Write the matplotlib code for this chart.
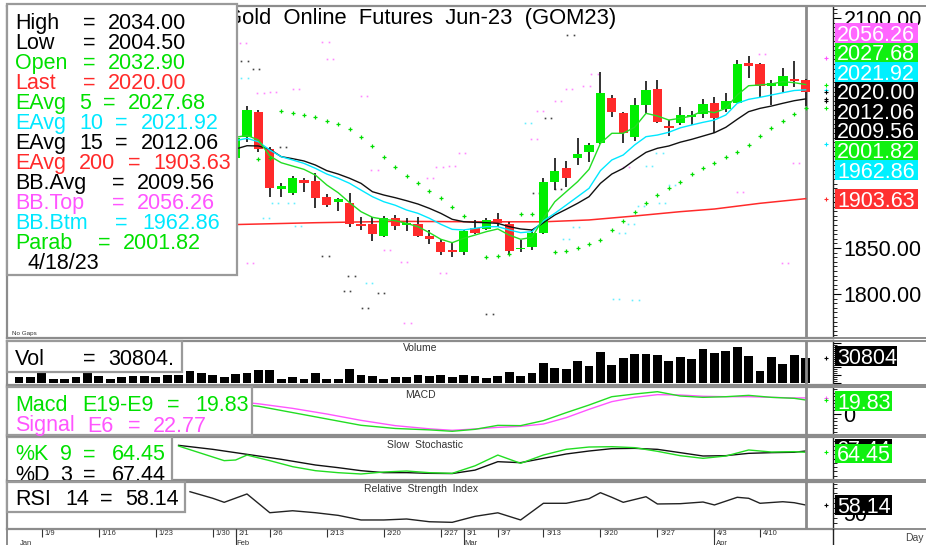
import matplotlib
matplotlib.use("Agg")
import matplotlib.pyplot as plt
from matplotlib.patches import Rectangle
from matplotlib.lines import Line2D
from matplotlib.ticker import MultipleLocator, FixedLocator, NullFormatter, FormatStrFormatter, FuncFormatter
import matplotlib.transforms as mtrans

plt.rcParams['font.family'] = ['Liberation Sans', 'DejaVu Sans']

# ---------------- data ----------------
TITLE = "Gold  Online  Futures  Jun-23  (GOM23)"
DATE_STR = "4/18/23"

candle_idx = list(range(19, 70))
opens = [1947.5, 1970.3, 1998.2, 1957.3, 1914.5, 1910.2, 1923.9, 1922.8, 1905.8, 1900.5,
         1898.6, 1875.8, 1876.1, 1863.0, 1882.3, 1875.0, 1876.1, 1863.4, 1856.8, 1847.8,
         1845.3, 1872.1, 1870.7, 1881.5, 1876.1, 1848.6, 1851.4, 1866.6, 1922.1, 1936.6,
         1948.2, 1954.7, 1964.0, 2013.4, 1996.4, 1971.0, 2005.4, 2022.5, 1982.6, 1985.5,
         1992.1, 1995.7, 2007.3, 2000.8, 2007.9, 2051.4, 2050.0, 2026.6, 2026.1, 2033.7,
         2032.9]
highs = [1971.0, 2004.3, 1999.5, 1960.1, 1920.3, 1928.3, 1926.4, 1931.2, 1908.7, 1904.0,
         1910.1, 1884.0, 1884.0, 1884.8, 1885.5, 1883.0, 1884.0, 1869.6, 1859.5, 1855.8,
         1869.6, 1880.4, 1882.3, 1887.7, 1878.6, 1858.7, 1869.6, 1925.8, 1947.5, 1944.9,
         1969.2, 1963.8, 2041.0, 2016.3, 1998.2, 2012.7, 2031.8, 2032.6, 1989.1, 2003.6,
         1999.2, 2011.6, 2014.5, 2018.2, 2054.3, 2058.7, 2050.7, 2032.6, 2046.0, 2053.6,
         2034.0]
lows = [1945.0, 1965.5, 1954.7, 1905.1, 1905.8, 1907.3, 1911.2, 1893.2, 1894.9, 1890.5,
        1872.5, 1869.6, 1857.9, 1862.3, 1869.6, 1868.0, 1862.3, 1854.3, 1842.4, 1839.9,
        1842.4, 1865.2, 1869.6, 1873.2, 1843.5, 1846.0, 1847.8, 1865.2, 1913.0, 1916.6,
        1940.2, 1943.8, 1962.7, 1992.1, 1963.8, 1966.6, 1996.4, 1985.5, 1972.1, 1983.7,
        1983.7, 1991.0, 1975.3, 1998.2, 2007.3, 2034.4, 2014.5, 2005.4, 2020.0, 2025.3,
        2004.5]
closes = [1969.2, 2000.0, 1957.6, 1915.5, 1917.7, 1926.4, 1921.0, 1904.0, 1897.1, 1903.1,
          1875.8, 1873.9, 1864.9, 1882.3, 1873.9, 1877.0, 1863.0, 1859.5, 1845.3, 1845.7,
          1868.5, 1866.6, 1880.4, 1876.8, 1847.1, 1850.3, 1866.0, 1922.1, 1933.7, 1926.4,
          1952.2, 1962.0, 2018.2, 1997.5, 1974.7, 2005.4, 2021.7, 1987.5, 1980.1, 1994.6,
          1994.6, 2006.5, 1991.0, 2009.8, 2050.0, 2047.3, 2026.1, 2029.1, 2037.0, 2031.8,
          2020.0]

vol_idx = list(range(0, 70))
volumes = [6660, 6660, 12900, 4160, 4160, 6660, 12900, 8320, 4160, 6660,
           8320, 8320, 6660, 9570, 9570, 14560, 11650, 9980, 7490, 10400,
           11650, 15800, 15800, 4160, 7490, 4160, 11650, 4160, 4160, 16640,
           9570, 8320, 5000, 6660, 6660, 9150, 7900, 9150, 6660, 9980,
           8320, 5820, 8320, 13300, 7900, 11650, 24960, 18300, 17060, 27040,
           20400, 38270, 21630, 30780, 35360, 35360, 34530, 27040, 32030, 29120,
           41600, 37440, 39100, 44100, 33280, 14560, 32030, 23300, 34530, 30804]

ema5 = [1970.3, 1972.5, 1967.4, 1950.0, 1942.7, 1939.1, 1935.5, 1929.3, 1918.5, 1910.1,
        1899.3, 1889.5, 1883.4, 1881.2, 1879.7, 1876.8, 1873.2, 1866.7, 1859.5, 1855.8,
        1860.5, 1864.1, 1867.8, 1870.7, 1864.1, 1859.5, 1861.6, 1882.3, 1900.3, 1911.2,
        1922.1, 1935.5, 1963.8, 1974.7, 1974.7, 1981.2, 1996.4, 1993.5, 1989.1, 1991.0,
        1993.5, 1999.2, 1997.1, 2001.8, 2016.3, 2026.4, 2027.2, 2028.3, 2030.8, 2029.7,
        2027.68]
ema10 = [1966.7, 1969.2, 1965.5, 1956.5, 1949.3, 1945.7, 1942.0, 1936.6, 1930.4, 1925.8,
         1920.3, 1913.0, 1905.8, 1900.3, 1896.5, 1891.3, 1887.7, 1882.3, 1875.8, 1870.3,
         1869.6, 1871.4, 1873.2, 1873.2, 1869.6, 1866.7, 1867.8, 1879.5, 1887.7, 1896.7,
         1905.8, 1914.9, 1934.1, 1945.7, 1951.1, 1962.0, 1971.0, 1972.8, 1975.8, 1980.6,
         1983.7, 1986.6, 1989.1, 1994.6, 2007.3, 2011.6, 2013.8, 2016.3, 2018.8, 2021.2,
         2021.92]
ema15 = [1957.6, 1961.2, 1960.9, 1957.3, 1949.3, 1947.1, 1944.6, 1940.2, 1934.1, 1930.4,
         1925.8, 1920.3, 1911.2, 1907.6, 1904.7, 1901.4, 1897.8, 1893.1, 1887.7, 1881.2,
         1878.6, 1877.9, 1877.5, 1876.8, 1873.2, 1870.7, 1869.6, 1877.5, 1885.9, 1892.1,
         1898.6, 1905.8, 1920.3, 1930.4, 1936.6, 1945.7, 1954.0, 1958.4, 1960.9, 1965.0,
         1968.1, 1971.7, 1975.3, 1981.2, 1989.9, 1998.2, 2001.8, 2004.3, 2007.3, 2010.1,
         2012.06]
ema200_idx = [19, 26, 33, 40, 46, 50, 54, 58, 61, 65, 69]
ema200 = [1875.5, 1877.5, 1879.0, 1878.5, 1878.5, 1880.5, 1884.8, 1889.5, 1892.4, 1898.6, 1903.63]

bb_avg_last = 2009.56
bb_top_last = 2056.26
bb_btm_last = 1962.86

parab_idx = [21, 22, 23, 24, 25, 26, 27, 28, 29, 30, 31, 32, 33, 34, 35, 36, 37, 38, 39,
             41, 42, 43, 44, 45,
             47, 48, 49, 50, 51, 52, 53, 54, 55, 56, 57, 58, 59, 60, 61, 62, 63, 64, 65,
             66, 67, 68, 69]
parab = [1947.1, 1947.5, 1998.9, 1996.4, 1994.2, 1992.7, 1988.4, 1985.1, 1979.3, 1971.0,
         1960.9, 1948.6, 1937.7, 1928.3, 1920.3, 1912.3, 1904.0, 1894.2, 1885.1,
         1840.6, 1841.7, 1843.5, 1887.0, 1886.6,
         1846.0, 1847.1, 1849.6, 1854.3, 1858.7, 1869.6, 1879.7, 1889.5, 1898.6, 1907.6,
         1914.9, 1922.1, 1930.1, 1936.6, 1942.7, 1948.6, 1954.3, 1962.0, 1971.7, 1980.1,
         1987.7, 1995.3, 2001.82]

# sparse band dots (pink = BB top, cyan = BB bottom, black = BB avg)
pink_dot_idx = [19.4, 20.0, 20.9, 22.0, 24.0, 26.6, 27.0, 30.0, 30.9, 32.0, 33.5, 33.8, 35.8,
                36.6, 36.9, 37.7, 38.6, 44.9, 45.4, 47.0, 47.96, 49.5, 50.2, 52.96, 62.96,
                64.9, 66.9, 67.9]
pink_dot_val = [2073.0, 1833.3, 2018.1, 2019.6, 2022.5, 2074.0, 2055.1, 2015.5, 1934.8, 1847.8,
                1834.5, 1768.8, 1925.8, 1938.4, 1823.2, 1939.5, 1952.9, 1968.1, 1999.0, 2009.8,
                2022.8, 2026.1, 2038.8, 1938.4, 1911.2, 2060.5, 1834.0, 1942.0]
cyan_dot_idx = [19.5, 21.4, 22.2, 23.6, 24.2, 30.4, 44.4, 47.7, 48.6, 52.1, 52.6, 53.4, 53.8,
                54.3, 55.0, 55.9, 56.1, 57.0]
cyan_dot_val = [2034.4, 1882.3, 1898.6, 1898.6, 1874.0, 1812.3, 1985.9, 1859.4, 1872.5, 1794.2,
                1866.7, 1875.8, 1793.5, 1896.0, 1939.1, 1952.9, 1899.3, 1918.5]
black_dot_idx = [19.5, 20.5, 22.9, 26.6, 28.5, 28.9, 30.1, 31.5, 41.0, 45.1, 46.1, 47.0, 48.1]
black_dot_val = [2053.0, 2045.0, 1960.0, 1841.3, 1803.3, 1819.6, 1784.4, 1800.7, 1778.0, 1909.8,
                 1991.3, 1914.1, 2081.5]

macd_idx = [20, 21, 24, 27, 30, 33, 36, 38, 40, 42, 44, 46, 48, 50, 52, 54, 56, 58, 60, 62, 64, 66, 68, 69]
macd = [12.5, 11.0, 2.0, -7.0, -16.0, -20.5, -22.5, -24.5, -21.7, -16.1, -16.5, -9.4, 1.9, 12.7,
        24.5, 28.3, 31.6, 25.5, 23.6, 24.5, 26.4, 23.6, 22.2, 19.83]
signal = [16.0, 14.5, 8.0, 0.0, -9.0, -16.5, -21.0, -23.1, -21.2, -18.9, -17.5, -14.2, -5.2, 6.6,
          17.5, 23.6, 27.4, 26.9, 25.1, 24.5, 24.5, 23.6, 22.7, 22.77]

stoch_k_idx = [14, 16, 18, 19, 20, 22, 24, 26, 28, 30, 32, 34, 36, 38, 40, 42, 44, 46, 48, 50,
               52, 54, 56, 58, 60, 62, 64, 66, 68, 69]
stoch_k = [79, 62, 45, 46.5, 58, 45, 31, 21.7, 17, 14, 18.6, 20.9, 17, 15.5, 33, 58, 38.8, 58.1,
           71.3, 76.7, 77.5, 75.2, 66.7, 56.6, 50.4, 55.8, 69.8, 65.1, 65.9, 64.45]
stoch_d_idx = [14, 17, 20, 23, 26, 28, 30, 32, 34, 36, 38, 40, 42, 44, 46, 48, 50, 52, 54, 56,
               58, 60, 62, 64, 66, 68, 69]
stoch_d = [80.6, 71.3, 59.7, 48.1, 34.9, 28.7, 21.7, 17.1, 17.1, 15.5, 15.0, 23.0, 42.6, 40.3,
           50.4, 60.5, 67.4, 72.9, 73.6, 71.3, 63.6, 55.8, 56.6, 62.0, 63.6, 64.5, 67.44]

rsi_idx = [15, 17, 18, 20, 22, 24, 26, 28, 30, 32, 34, 36, 38, 40, 42, 44, 46, 48, 50, 51, 52,
           53, 55, 56, 58, 60, 61, 63, 64, 65, 67, 68, 69]
rsi = [71.7, 65.0, 60.9, 69.4, 50.3, 52.3, 50.3, 47.6, 42.9, 42.9, 43.9, 41.1, 40.5, 46.6, 50.2,
       42.9, 59.9, 59.9, 64.6, 70.7, 66.0, 60.9, 66.6, 59.2, 59.5, 61.2, 58.2, 66.0, 65.0, 59.9,
       61.5, 60.5, 58.14]

day_tick_labels = ["1/9", "1/16", "1/23", "1/30", "2/1", "2/6", "2/13", "2/20", "2/27", "3/1",
                   "3/7", "3/13", "3/20", "3/27", "4/3", "4/10"]
day_tick_idx = [2, 7, 12, 17, 19, 22, 27, 32, 37, 39, 42, 46, 51, 56, 61, 65]
month_labels = ["Jan", "Feb", "Mar", "Apr"]
month_idx = [0, 19, 39, 61]

price_tick_labels_shown = [1800, 1850, 2100]

# ---------------- style ----------------
W, H = 926, 545
GREEN = '#00ee00'
GREEN_T = '#00e000'
RED = '#ff2a2a'
CYAN = '#00e8ff'
PINK = '#ff55ff'
GRAY = '#8c8c8c'
FS = 15.5
CAPH = 7.7  # half cap height in px for FS

fig = plt.figure(figsize=(W / 100, H / 100), dpi=100)
fig.patch.set_facecolor('white')

XL = (-1.05, 71.4)


def add_ax(y0, y1, x0=7, x1=833, sharex=None):
    return fig.add_axes([x0 / W, 1 - y1 / H, (x1 - x0) / W, (y1 - y0) / H], sharex=sharex)


def style(ax, ylim):
    ax.set_xlim(*XL)
    ax.set_ylim(*ylim)
    for s in ['top', 'bottom', 'left']:
        ax.spines[s].set_color(GRAY)
        ax.spines[s].set_linewidth(1.6)
    ax.spines['right'].set_color('#222222')
    ax.spines['right'].set_linewidth(1.0)
    ax.yaxis.tick_right()
    ax.tick_params(axis='y', which='major', length=6, width=0.8, direction='out',
                   labelsize=FS, pad=1.5)
    ax.tick_params(axis='y', which='minor', length=3, width=0.6, direction='out')
    ax.tick_params(axis='x', which='both', bottom=False, top=False, labelbottom=False)
    ax.set_facecolor('white')


def ptext(x, y, s, color='black', size=FS, clip_ax=None, zorder=8, **kw):
    t = fig.text(x / W, 1 - y / H, s, color=color, fontsize=size, ha='left',
                 va='baseline', zorder=zorder, **kw)
    if clip_ax is not None:
        t.set_clip_box(clip_ax.bbox)
        t.set_clip_on(True)
    return t


def frame_box(x0, y0, x1, y1, clip_ax=None):
    r = Rectangle((x0 / W, 1 - y1 / H), (x1 - x0) / W, (y1 - y0) / H,
                  transform=fig.transFigure, facecolor='white', edgecolor='#9a9a9a',
                  linewidth=1.6, zorder=7)
    fig.add_artist(r)
    if clip_ax is not None:
        r.set_clip_box(clip_ax.bbox)
        r.set_clip_on(True)


def value_label(text, yc, bg, x0=835, x1=918, fc='white', h=19.5, z=9):
    fig.add_artist(Rectangle((x0 / W, 1 - (yc + h / 2) / H), (x1 - x0) / W, h / H,
                             transform=fig.transFigure, facecolor=bg, edgecolor='none',
                             zorder=z))
    ptext(x0 + 2, yc + CAPH, text, color=fc, zorder=z + 0.5)


# ---------------- main panel ----------------
axm = add_ax(6, 338)
style(axm, (1752.2, 2113.04))
axm.yaxis.set_major_locator(MultipleLocator(50))
axm.yaxis.set_minor_locator(MultipleLocator(5))
axm.yaxis.set_major_formatter(FuncFormatter(
    lambda v, p: f"{v:.2f}" if round(v) in price_tick_labels_shown else ""))

axm.axvline(candle_idx[-1], color='#8a8a8a', lw=2, zorder=1)
axm.plot(ema200_idx, ema200, color=RED, lw=1.1, zorder=2)

bodies = [c - o for o, c in zip(opens, closes)]
ccol = [GREEN if c >= o else RED for o, c in zip(opens, closes)]
axm.vlines(candle_idx, lows, highs, color='#222222', lw=1.3, zorder=3)
axm.bar(candle_idx, bodies, bottom=opens, width=0.82, color=ccol, zorder=4)

axm.plot(candle_idx, ema15, color='#111111', lw=1.0, zorder=5)
axm.plot(candle_idx, ema10, color=CYAN, lw=1.0, zorder=5)
axm.plot(candle_idx, ema5, color='#22dd22', lw=1.0, zorder=5)
axm.plot(parab_idx, parab, ls='none', marker='+', ms=2.8, mew=0.9, color='#00dd00', zorder=5)

for ix, vals, col in [(pink_dot_idx, pink_dot_val, '#ff88ff'),
                      (cyan_dot_idx, cyan_dot_val, '#66eeff'),
                      (black_dot_idx, black_dot_val, '#444444')]:
    axm.plot(ix, vals, ls='none', marker='s', ms=1.2, mew=0, color=col, zorder=2)
    axm.plot([i + 0.55 for i in ix], vals, ls='none', marker='s', ms=1.2, mew=0,
             color=col, zorder=2)

# right-edge value markers
for v, col in [(bb_top_last, PINK), (ema5[-1], GREEN), (ema10[-1], CYAN), (closes[-1], 'black'),
               (ema15[-1], 'black'), (bb_avg_last, 'black'), (parab[-1], GREEN),
               (bb_btm_last, CYAN), (ema200[-1], RED)]:
    axm.plot([70.8], [v], marker='+', ms=3.5, mew=0.8, color=col, clip_on=False, zorder=6)

fig.text(225 / W, 1 - 24 / H, TITLE, fontsize=15.8, color='black', ha='left',
         va='baseline', zorder=4)
fig.text(12 / W, 1 - 335 / H, "No Gaps", fontsize=4.5, color='#333333', zorder=4)

# info box
frame_box(7, 4, 237, 275)
lines = [
    [("High", 15), ("=", 83), (f"{highs[-1]:.2f}", 108)],
    [("Low", 15), ("=", 83), (f"{lows[-1]:.2f}", 108)],
    [("Open", 15), ("=", 83), (f"{opens[-1]:.2f}", 108)],
    [("Last", 15), ("=", 83), (f"{closes[-1]:.2f}", 108)],
    [("EAvg", 15), ("5", 79), ("=", 103), (f"{ema5[-1]:.2f}", 128)],
    [("EAvg", 15), ("10", 79), ("=", 115), (f"{ema10[-1]:.2f}", 141)],
    [("EAvg", 15), ("15", 79), ("=", 115), (f"{ema15[-1]:.2f}", 141)],
    [("EAvg", 15), ("200", 79), ("=", 128), (f"{ema200[-1]:.2f}", 153)],
    [("BB.Avg", 15), ("=", 112), (f"{bb_avg_last:.2f}", 137)],
    [("BB.Top", 15), ("=", 112), (f"{bb_top_last:.2f}", 137)],
    [("BB.Btm", 15), ("=", 115), (f"{bb_btm_last:.2f}", 142)],
    [("Parab", 15), ("=", 98), (f"{parab[-1]:.2f}", 123)],
    [(DATE_STR, 27)],
]
line_cols = ['black', 'black', GREEN_T, RED, GREEN_T, CYAN, 'black', RED, 'black', PINK,
             CYAN, GREEN_T, 'black']
for i, (toks, col) in enumerate(zip(lines, line_cols)):
    for s, x in toks:
        ptext(x, 28.7 + 20.0 * i, s, color=col)

# right labels (main)
main_labels = [(bb_top_last, '#ff66ff', 33.0), (ema5[-1], '#10f010', 52.5),
               (ema10[-1], '#00f0ff', 72.0), (closes[-1], 'black', 91.5),
               (ema15[-1], 'black', 111.0), (bb_avg_last, 'black', 130.5),
               (parab[-1], '#10f010', 150.5), (bb_btm_last, '#00f0ff', 170.0),
               (ema200[-1], '#ff3030', 199.2)]
for v, bg, yc in main_labels:
    value_label(f"{v:.2f}", yc, bg)

# ---------------- volume ----------------
axv = add_ax(341, 385, sharex=axm)
style(axv, (-2864, 51917))
axv.yaxis.set_major_locator(MultipleLocator(10000))
axv.yaxis.set_minor_locator(MultipleLocator(2500))
axv.yaxis.set_major_formatter(NullFormatter())
axv.bar(vol_idx, volumes, width=0.78, color='black', zorder=3)
axv.axvline(vol_idx[-1], color='#8a8a8a', lw=2, zorder=4)
axv.plot([70.8], [volumes[-1]], marker='+', ms=3.5, mew=0.8, color='black', clip_on=False)
frame_box(7, 341, 182, 372)
for s, x in [("Vol", 15), ("=", 83), (f"{volumes[-1]}.", 108)]:
    ptext(x, 365, s)
value_label(f"{volumes[-1]}", 356, 'black', x1=897)
fig.text(420 / W, 1 - 351 / H, "Volume", fontsize=7.5, color='#333333', ha='center', va='baseline')

# ---------------- MACD ----------------
axc = add_ax(387, 435, sharex=axm)
style(axc, (-29.75, 38.24))
axc.yaxis.set_major_locator(FixedLocator([0]))
axc.yaxis.set_minor_locator(MultipleLocator(5))
axc.yaxis.set_major_formatter(FormatStrFormatter('%d'))
axc.plot(macd_idx, signal, color='#ff55ff', lw=1.0, zorder=3)
axc.plot(macd_idx, macd, color='#22dd22', lw=1.0, zorder=4)
axc.axvline(vol_idx[-1], color='#8a8a8a', lw=2, zorder=5)
axc.plot([70.8], [signal[-1]], marker='+', ms=3.5, mew=0.8, color=PINK, clip_on=False)
axc.plot([70.8], [macd[-1]], marker='+', ms=3.5, mew=0.8, color=GREEN, clip_on=False)
frame_box(7, 387, 252, 435)
for s, x in [("Macd", 15), ("E19-E9", 82), ("=", 167), (f"{macd[-1]:.2f}", 195)]:
    ptext(x, 411, s, color=GREEN_T)
for s, x in [("Signal", 15), ("E6", 87), ("=", 128), (f"{signal[-1]:.2f}", 153)]:
    ptext(x, 431.5, s, color=PINK)
value_label(f"{macd[-1]:.2f}", 401, '#10f010', x1=892)
fig.text(420 / W, 1 - 398 / H, "MACD", fontsize=7.5, color='#333333', ha='center', va='baseline')

# ---------------- Slow stochastic ----------------
axs = add_ax(437, 480, sharex=axm)
style(axs, (0, 100))
axs.yaxis.set_major_locator(FixedLocator([50]))
axs.yaxis.set_minor_locator(MultipleLocator(10))
axs.yaxis.set_major_formatter(NullFormatter())
axs.plot(stoch_d_idx, stoch_d, color='#111111', lw=1.0, zorder=3)
axs.plot(stoch_k_idx, stoch_k, color='#22dd22', lw=1.0, zorder=4)
axs.axvline(vol_idx[-1], color='#8a8a8a', lw=2, zorder=5)
axs.plot([70.8], [stoch_k[-1]], marker='+', ms=3.5, mew=0.8, color=GREEN, clip_on=False)
frame_box(7, 437, 172, 484, clip_ax=axs)
for s, x in [("%K", 15), ("9", 60), ("=", 83), (f"{stoch_k[-1]:.2f}", 112)]:
    ptext(x, 460.5, s, color=GREEN_T)
for s, x in [("%D", 15), ("3", 60), ("=", 83), (f"{stoch_d[-1]:.2f}", 112)]:
    ptext(x, 481, s, color='black', clip_ax=axs)
value_label(f"{stoch_d[-1]:.2f}", 448.5, 'black', x1=892, z=9)
value_label(f"{stoch_k[-1]:.2f}", 453.5, '#10f010', x1=892, z=10)
fig.text(425 / W, 1 - 448 / H, "Slow  Stochastic", fontsize=7.5, color='#333333', ha='center',
         va='baseline')

# ---------------- RSI ----------------
axr = add_ax(482, 529, sharex=axm)
style(axr, (33.7, 81.6))
axr.yaxis.set_major_locator(FixedLocator([50]))
axr.yaxis.set_minor_locator(MultipleLocator(5))
axr.yaxis.set_major_formatter(FormatStrFormatter('%d'))
axr.plot(rsi_idx, rsi, color='#222222', lw=1.0, zorder=3)
axr.axvline(vol_idx[-1], color='#8a8a8a', lw=2, zorder=5)
axr.plot([70.8], [rsi[-1]], marker='+', ms=3.5, mew=0.8, color='black', clip_on=False)
frame_box(7, 482, 185, 512)
for s, x in [("RSI", 15), ("14", 65), ("=", 100), (f"{rsi[-1]:.2f}", 125)]:
    ptext(x, 505, s)
value_label(f"{rsi[-1]:.2f}", 505, 'black', x1=892)
fig.text(421 / W, 1 - 492 / H, "Relative  Strength  Index", fontsize=7.5, color='#333333',
         ha='center', va='baseline')

# ---------------- date axis ----------------
axd = add_ax(529, 545, sharex=axm)
axd.set_xlim(*XL)
axd.set_ylim(0, 1)
axd.axis('off')
tr = mtrans.blended_transform_factory(axd.transData, axd.transAxes)
axd.vlines(day_tick_idx, 0.5, 1.0, color='#333333', lw=0.8, transform=tr)
axd.vlines(month_idx[1:], 0.0, 1.0, color='#333333', lw=0.8, transform=tr)
for lab, ix in zip(day_tick_labels, day_tick_idx):
    axd.text(ix + 0.25, 0.62, lab, transform=tr, fontsize=5.5, color='#333333', va='baseline')
for lab, ix in zip(month_labels, month_idx):
    axd.text(ix + 0.1, 0.02, lab, transform=tr, fontsize=5.5, color='#333333', va='baseline')
fig.text(905 / W, 1 - 541 / H, "Day", fontsize=7.5, color='#444444', va='baseline')

# figure-level frame lines on the right label area
for yy in [6, 338, 341, 385, 387, 435, 437, 480, 482, 529]:
    fig.add_artist(Line2D([833 / W, 1.0], [1 - yy / H, 1 - yy / H], transform=fig.transFigure,
                          color=GRAY, lw=1.4, zorder=1))
fig.add_artist(Line2D([833 / W, 833 / W], [0, 1 - 529 / H], transform=fig.transFigure,
                      color='#222222', lw=1.0, zorder=1))
fig.add_artist(Line2D([7 / W, 7 / W], [0, 1 - 529 / H], transform=fig.transFigure,
                      color=GRAY, lw=1.4, zorder=1))

fig.savefig('out.png', dpi=100)
